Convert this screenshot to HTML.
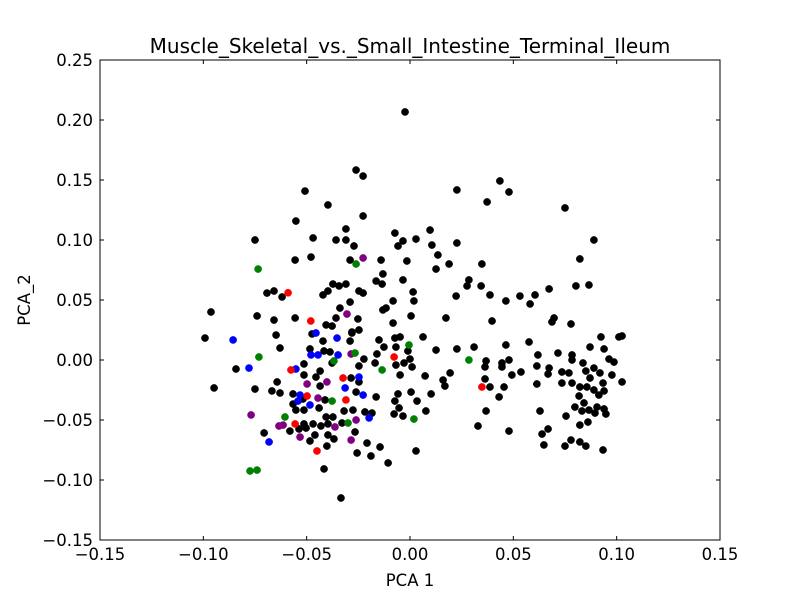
<!DOCTYPE html>
<html><head><meta charset="utf-8"><style>
body{margin:0;background:#fff}
svg text{font-family:"DejaVu Sans","Liberation Sans",sans-serif;fill:#000}
</style></head><body>
<svg id="chart" width="800" height="600" viewBox="0 0 800 600">
<rect x="0" y="0" width="800" height="600" fill="#fff"/>
<text x="410" y="53" font-size="20" text-anchor="middle">Muscle_Skeletal_vs._Small_Intestine_Terminal_Ileum</text>
<g id="marks"></g>
<g id="axes"></g>
<text x="410" y="586" font-size="16.5" text-anchor="middle">PCA 1</text>
<text x="30" y="300" font-size="16.5" text-anchor="middle" transform="rotate(-90 30 300)">PCA_2</text>
</svg>
<script>
const xTicks=[-0.15,-0.10,-0.05,0.00,0.05,0.10,0.15];
const xTickLabels=["\u22120.15","\u22120.10","\u22120.05","0.00","0.05","0.10","0.15"];
const yTicks=[-0.15,-0.10,-0.05,0.00,0.05,0.10,0.15,0.20,0.25];
const yTickLabels=["\u22120.15","\u22120.10","\u22120.05","0.00","0.05","0.10","0.15","0.20","0.25"];
const blackPts=[[-0.0261,0.1583],[-0.0227,0.1533],[-0.0508,0.1408],[-0.0397,0.1292],[-0.0227,0.12],[-0.0552,0.1158],[-0.075,0.1],[-0.0469,0.1017],[-0.0358,0.1],[-0.031,0.1092],[-0.031,0.1],[-0.0271,0.095],[-0.0073,0.1058],[-0.0034,0.0992],[-0.0058,0.095],[0.0029,0.1008],[-0.0556,0.0833],[-0.0479,0.0858],[-0.029,0.0833],[-0.014,0.0833],[-0.0015,0.0825],[-0.0131,0.0717],[-0.0164,0.0658],[-0.0135,0.0633],[-0.0034,0.0667],[-0.0692,0.0558],[-0.0658,0.0575],[-0.0619,0.0525],[-0.0373,0.0633],[-0.0343,0.0617],[-0.031,0.0633],[-0.0397,0.0575],[-0.0421,0.0542],[-0.0247,0.0575],[-0.0227,0.0558],[0.0015,0.0567],[-0.029,0.0483],[-0.0339,0.0433],[-0.0082,0.0492],[0.0019,0.0492],[-0.0131,0.0417],[-0.0116,0.0433],[-0.0963,0.04],[-0.074,0.0367],[-0.0658,0.0333],[-0.0556,0.035],[-0.0358,0.035],[-0.0252,0.0342],[0.0005,0.0367],[-0.0082,0.0308],[-0.0406,0.0292],[-0.0377,0.0283],[-0.0281,0.0233],[-0.0247,0.025],[-0.0648,0.0208],[-0.0992,0.0183],
[-0.0474,0.0217],[-0.0421,0.0158],[-0.029,0.0158],[-0.0281,0.0225],[-0.015,0.0167],[-0.0073,0.0183],[-0.0048,0.0192],[-0.0629,0.01],[-0.0484,0.0092],[-0.0416,0.0075],[-0.0387,0.0067],[-0.0126,0.0108],[-0.0068,0.0108],[-0.001,0.0075],[-0.016,0.005],[-0.0223,0.0008],[-0.0842,-0.0075],[-0.0513,-0.0033],[-0.0513,-0.0125],[-0.0435,-0.0092],[-0.0377,-0.0025],[-0.0247,-0.005],[-0.0169,-0.0025],[-0.0068,-0.0042],[-0.0029,-0.0025],[0,0.0008],[0.001,-0.0058],[-0.0048,-0.0125],[-0.0948,-0.0233],[-0.075,-0.0242],[-0.0643,-0.0183],[-0.0668,-0.0258],[-0.0629,-0.0275],[-0.0455,-0.0142],[-0.0435,-0.0217],[-0.0285,-0.015],[-0.0247,-0.0183],[-0.0261,-0.0267],[-0.0164,-0.0308],[-0.0058,-0.0283],[0.0005,-0.0267],[-0.0073,-0.0342],[0.0034,-0.0342],[-0.0566,-0.0283],[-0.0518,-0.0325],[-0.0566,-0.0367],[-0.0552,-0.0417],[-0.0513,-0.0417],[-0.044,-0.04],[-0.0411,-0.0333],[-0.0319,-0.0425],[-0.0276,-0.0417],[-0.0218,-0.0433],[-0.0184,-0.0442],[-0.0053,-0.04],[-0.0077,-0.045],[-0.0034,-0.0467],[-0.0513,-0.0533],[-0.0469,-0.0533],[-0.0406,-0.0475],[-0.0373,-0.0475],[-0.0397,-0.0533],[-0.0329,-0.0525],[-0.0581,-0.0592],[-0.0537,-0.0575],[-0.0503,-0.0567],[-0.0431,-0.055],[-0.0706,-0.0608],[-0.046,-0.0625],[-0.0397,-0.0625],[-0.0368,-0.0658],[-0.0266,-0.06],[-0.0484,-0.0675],[-0.0402,-0.0717],[-0.0208,-0.0692],[-0.0145,-0.0725],[-0.0256,-0.0775],[-0.0189,-0.08],[-0.0106,-0.0858],[0.0029,-0.0758],[-0.0416,-0.0908],[-0.0334,-0.115],
[-0.0024,0.2067],[0.0435,0.1492],[0.0227,0.1417],[0.0479,0.14],[0.0373,0.1317],[0.075,0.1267],[0.0097,0.1083],[0.0106,0.0958],[0.0227,0.0975],[0.0135,0.0875],[0.0189,0.08],[0.0126,0.0758],[0.0348,0.08],[0.089,0.1],[0.0822,0.0842],[0.0285,0.0667],[0.0276,0.0617],[0.0344,0.0617],[0.0387,0.0542],[0.0223,0.0533],[0.0464,0.0492],[0.0532,0.0533],[0.0605,0.0542],[0.0581,0.0467],[0.0673,0.0592],[0.0803,0.0617],[0.0866,0.0625],[0.0174,0.035],[0.0697,0.035],[0.0687,0.0317],[0.0779,0.03],[0.0397,0.0325],[0.0063,0.0192],[0.0126,0.0083],[0.0227,0.0092],[0.031,0.0108],[0.0464,0.0125],[0.0576,0.015],[0.0924,0.0192],[0.1011,0.0192],[0.1026,0.02],[0.0871,0.0108],[0.0939,0.0092],[0.0619,0.0042],[0.0716,0.0058],[0.0784,0.0042],[0.0784,0],[0.0368,-0.0008],[0.0363,-0.0058],[0.0445,-0.0025],[0.0479,0],[0.0445,-0.0058],[0.0537,-0.01],[0.0493,-0.0125],[0.0614,-0.005],[0.0673,-0.0067],[0.0668,-0.0117],[0.0735,-0.01],[0.0769,-0.0108],[0.0837,-0.0025],[0.089,-0.0067],[0.0851,-0.0092],[0.0919,-0.0108],[0.0963,0.0008],[0.0987,-0.0017],[0.0977,-0.0125],[0.1026,-0.0183],[0.0073,-0.0133],[0.016,-0.0167],[0.0194,-0.0108],[0.0169,-0.0217],[0.0363,-0.0158],[0.0387,-0.0225],[0.0455,-0.0225],[0.0431,-0.0308],[0.0614,-0.02],[0.0735,-0.0192],[0.0784,-0.0192],[0.0822,-0.0225],[0.0856,-0.0225],[0.0871,-0.015],[0.089,-0.025],[0.0934,-0.0192],[0.0914,-0.0292],[0.0939,-0.0258],[0.0818,-0.03],[0.0842,-0.0358],[0.0798,-0.0392],[0.0832,-0.0425],[0.0866,-0.0417],[0.0895,-0.0442],[0.0905,-0.0392],[0.0939,-0.0408],[0.0948,-0.045],[0.0755,-0.0467],[0.0822,-0.0542],[0.0861,-0.0517],[0.0668,-0.0575],[0.0629,-0.0425],[0.0368,-0.0425],[0.0329,-0.055],[0.0479,-0.0592],[0.0639,-0.0617],[0.0648,-0.0708],[0.0779,-0.0667],[0.0822,-0.0683],[0.0851,-0.0717],[0.075,-0.0717],[0.0102,-0.0283],[0.0077,-0.0425],[0.0934,-0.075]];
const redPts=[[-0.059,0.056],[-0.048,0.0325],[-0.0576,-0.0083],[-0.0498,-0.03],[-0.0324,-0.015],[-0.031,-0.0333],[-0.0077,0.0025],[-0.0556,-0.0533],[-0.045,-0.0758],[0.0348,-0.0225]];
const bluePts=[[-0.0455,0.0225],[-0.0353,0.0183],[-0.0856,0.0167],[-0.0479,0.0042],[-0.0445,0.0042],[-0.0348,0.0042],[-0.0552,-0.0075],[-0.0247,-0.0142],[-0.0314,-0.0233],[-0.0227,-0.0292],[-0.0532,-0.0292],[-0.0484,-0.0375],[-0.0542,-0.0342],[-0.0198,-0.0483],[-0.0779,-0.0067],[-0.0682,-0.0683]];
const greenPts=[[-0.0261,0.08],[-0.0735,0.0758],[-0.0731,0.0025],[-0.0266,0.0058],[-0.0005,0.0125],[-0.0368,-0.0008],[-0.0135,-0.0083],[-0.0377,-0.0342],[0.0019,-0.0492],[-0.0605,-0.0475],[-0.03,-0.0525],[-0.0774,-0.0925],[-0.074,-0.0917],[0.0285,0.0]];
const purplePts=[[-0.0227,0.085],[-0.0305,0.0383],[-0.0285,0.005],[-0.0498,-0.02],[-0.0402,-0.0183],[-0.0445,-0.0317],[-0.0769,-0.0458],[-0.0261,-0.05],[-0.0634,-0.055],[-0.0614,-0.0542],[-0.0363,-0.0558],[-0.0532,-0.0642],[-0.0285,-0.0667]];

const L=100,R=720,T=60,B=540,xMin=-0.15,xMax=0.15,yMin=-0.15,yMax=0.25;
function sx(v){return L+(v-xMin)/(xMax-xMin)*(R-L);}
function sy(v){return B-(v-yMin)/(yMax-yMin)*(B-T);}
const NS="http://www.w3.org/2000/svg";
const marks=document.getElementById('marks');
const axes=document.getElementById('axes');
function mk(tag,attrs,parent){const e=document.createElementNS(NS,tag);for(const k in attrs)e.setAttribute(k,attrs[k]);parent.appendChild(e);return e;}
function drawSeries(pts,color,name){
  pts.forEach(p=>{
    const c=mk('circle',{cx:sx(p[0]),cy:sy(p[1]),r:3.6,fill:color,stroke:color,'stroke-width':0.5},marks);
    
    
  });
}
drawSeries(blackPts,'#000','black-point');
drawSeries(purplePts,'#800080','purple-point');
drawSeries(greenPts,'#008000','green-point');
drawSeries(bluePts,'#0000ff','blue-point');
drawSeries(redPts,'#ff0000','red-point');
const frame=mk('rect',{x:L,y:T,width:R-L,height:B-T,fill:'none',stroke:'#000','stroke-width':1},axes);


xTicks.forEach((v,i)=>{
  const x=sx(v);
  mk('line',{x1:x,y1:B,x2:x,y2:B-4,stroke:'#000'},axes);
  mk('line',{x1:x,y1:T,x2:x,y2:T+4,stroke:'#000'},axes);
  const t=mk('text',{x:x,y:B+20,'font-size':16.5,'text-anchor':'middle'},axes);
  t.textContent=xTickLabels[i];
  
  
});
yTicks.forEach((v,i)=>{
  const y=sy(v);
  mk('line',{x1:L,y1:y,x2:L+4,y2:y,stroke:'#000'},axes);
  mk('line',{x1:R,y1:y,x2:R-4,y2:y,stroke:'#000'},axes);
  const t=mk('text',{x:L-7,y:y+6,'font-size':16.5,'text-anchor':'end'},axes);
  t.textContent=yTickLabels[i];
  
  
});
</script>
</body></html>
